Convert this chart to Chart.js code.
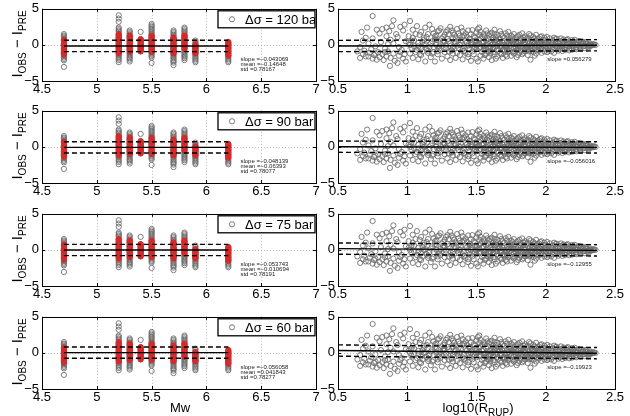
<!DOCTYPE html>
<html>
<head>
<meta charset="utf-8">
<script src="https://cdn.jsdelivr.net/npm/chart.js@4.4.0/dist/chart.umd.min.js"></script>
<style>
  body { margin: 0; background: #fff; }
  #fig { position: relative; width: 630px; height: 416px; overflow: hidden; background: #fff;
         font-family: "Liberation Sans", Arial, sans-serif; color: #000; }
  #fig canvas { position: absolute; }
  .ylab { position: absolute; width: 110px; height: 20px; line-height: 20px; text-align: center;
          font-size: 15px; white-space: nowrap; transform: rotate(-90deg); }
  .ylab sub, .xlab sub { font-size: 10px; }
  .xlab { position: absolute; font-size: 13px; white-space: nowrap; transform: translateX(-50%); }
</style>
</head>
<body>
<div id="fig"></div>
<script>
// Stress drop of each row
const stressDrops = [120, 90, 75, 60];

// Statistics printed in the panels
const mwSlopes = [-0.043069, -0.048139, -0.053743, -0.056058];
const mwMeans = [-0.14648, -0.06393, -0.010694, 0.041843];
const mwStds = [0.78167, 0.78077, 0.78191, 0.78277];
const rupSlopes = [0.056279, -0.056016, -0.12955, -0.19923];

// Fit line of the distance residuals, read at log10(R) = 0.5 and 2.37
const fitRange = [0.5, 2.37];
const fitStart = [-0.15, 0.03, 0.18, 0.33];
const fitEnd = [-0.05, -0.07, -0.06, -0.04];

// Magnitude columns and residuals in each column
const mwValues = [4.7, 5.2, 5.3, 5.4, 5.5, 5.7, 5.8, 5.9, 6.2];
const mwGrayResiduals = [
    [1.5, 1.3, 1.15, 0.95, 0.8, 0.6, 0.4, 0.25, 0.05, -0.1, -0.3, -0.5, -0.65, -0.85, -1.0, -1.2, -1.4, -1.55, -1.75, -1.95, -2.15, -3.05],
    [4.1, 3.65, 3.2, 2.4, 2.2, 2.0, 1.85, 1.6, 1.4, 1.25, 1.05, 0.85, 0.7, 0.5, 0.3, 0.15, -0.05, -0.25, -0.4, -0.6, -0.8, -0.95, -1.15, -1.35, -1.5, -1.7, -1.9, -2.1, -2.4],
    [2.0, 1.8, 1.6, 1.45, 1.25, 1.05, 0.9, 0.7, 0.5, 0.35, 0.15, -0.05, -0.2, -0.4, -0.6, -0.75, -0.95, -1.15, -1.3, -1.5, -1.7, -1.85, -2.05, -2.3],
    [1.8, 0.8, 0.6, 0.45, 0.25, 0.05, -0.1, -0.3, -0.5, -0.65, -0.9],
    [2.9, 2.7, 2.5, 2.3, 2.15, 1.95, 1.75, 1.55, 1.4, 1.2, 1.0, 0.85, 0.65, 0.45, 0.3, 0.1, -0.1, -0.25, -0.45, -0.65, -0.8, -1.0, -1.2, -1.35, -1.55, -1.75, -2.5],
    [2.0, 1.8, 1.6, 1.4, 1.25, 1.05, 0.85, 0.7, 0.5, 0.3, 0.15, -0.05, -0.25, -0.4, -0.6, -0.8, -0.95, -1.15, -1.35, -1.5, -1.7, -1.9, -2.1, -2.25, -2.45, -2.8],
    [2.4, 2.2, 2.0, 1.8, 1.65, 1.45, 1.25, 1.1, 0.9, 0.7, 0.55, 0.35, 0.15, 0.0, -0.2, -0.4, -0.55, -0.75, -0.95, -1.1, -1.3, -1.5, -1.65, -1.85, -2.1],
    [0.6, 0.4, 0.2, 0.05, -0.15, -0.35, -0.5, -0.7, -0.9, -1.05, -1.25, -1.45, -1.6, -1.8, -2.0, -2.2, -2.4],
    [0.4, 0.2, 0.05, -0.15, -0.35, -0.5, -0.7, -0.9, -1.05, -1.25, -1.45, -1.6, -1.8, -2.0, -2.2, -2.4]
];
const mwRedResiduals = [
    [0.7, 0.55, 0.4, 0.2, 0.05, -0.1, -0.25, -0.4, -0.6, -0.75, -0.9, -1.05, -1.2, -1.35],
    [1.5, 1.35, 1.15, 1.0, 0.85, 0.7, 0.5, 0.35, 0.2, 0.05, -0.1, -0.3, -0.45, -0.6, -0.75, -0.9, -1.05, -1.2],
    [1.3, 1.15, 1.0, 0.8, 0.65, 0.5, 0.35, 0.15, 0.0, -0.15, -0.3, -0.5, -0.65, -0.8, -1.0],
    [0.8, 0.65, 0.5, 0.35, 0.2, 0.0, -0.15, -0.3, -0.45, -0.6, -0.75, -0.9],
    [1.3, 1.15, 1.0, 0.8, 0.65, 0.5, 0.3, 0.15, 0.0, -0.15, -0.35, -0.5, -0.65, -0.8, -1.0],
    [1.05, 0.9, 0.75, 0.6, 0.4, 0.25, 0.1, -0.05, -0.25, -0.4, -0.55, -0.7, -0.9, -1.05, -1.2],
    [1.3, 1.15, 1.0, 0.8, 0.65, 0.5, 0.3, 0.15, 0.0, -0.15, -0.35, -0.55],
    [0.1, -0.05, -0.2, -0.35, -0.5, -0.65, -0.8, -0.95, -1.1, -1.2],
    [0.4, 0.25, 0.1, -0.05, -0.2, -0.35, -0.5, -0.65, -0.8, -0.95, -1.1, -1.25, -1.4, -1.5]
];

// Residuals against log10(R_RUP): [log10 R, residual]
const rupPoints = [
    // short distances
    [0.75, 4.0], [0.71, 2.4], [0.67, 1.8], [0.90, 3.4], [0.89, 2.6], [0.85, 2.4], [0.95, 2.5], [0.75, 0.9], [0.85, 1.2], [0.80, 1.6],
    [0.78, 2.1], [0.82, 2.2], [0.87, 1.9], [0.92, 1.5], [0.97, 2.0], [0.93, 1.1], [0.70, 1.0], [0.88, 0.7], [0.98, 2.8],
    [0.66, -0.3], [0.72, 0.2], [0.77, -0.2], [0.81, 0.4], [0.84, -0.5], [0.90, 0.2], [0.94, -0.3], [0.99, 0.5], [0.68, 0.6], [0.74, -0.6],
    [0.86, 0.1], [0.96, -0.7],
    [0.64, -0.9], [0.66, -1.8], [0.68, -1.3], [0.70, -1.6], [0.72, -1.6], [0.73, -1.1], [0.75, -1.9], [0.76, -1.4], [0.78, -2.05], [0.79, -1.0],
    [0.80, -1.7], [0.82, -1.3], [0.83, -2.1], [0.85, -1.6], [0.86, -0.9], [0.875, -2.9], [0.88, -1.8], [0.90, -1.2], [0.91, -2.2], [0.93, -2.5],
    [0.94, -1.5], [0.95, -1.0], [0.97, -1.9], [0.98, -1.3], [0.99, -2.3], [0.69, -0.8], [0.77, -1.2], [0.84, -1.0],
    // 1.0 - 1.5
    [1.02, 3.3], [1.07, 2.6], [1.13, 2.4], [1.04, 2.1], [1.10, 1.8], [1.15, 1.5], [1.18, 2.2], [1.22, 1.9], [1.24, 2.3], [1.29, 2.05],
    [1.33, 1.7], [1.36, 2.2], [1.40, 1.9], [1.44, 2.0], [1.47, 2.05], [1.27, 1.4], [1.31, 2.5], [1.38, 1.3], [1.42, 1.6], [1.48, 1.2],
    [1.01, 1.2], [1.06, 1.5], [1.12, 1.0], [1.20, 1.2], [1.25, 0.9], [1.35, 1.0], [1.45, 0.8], [1.16, 2.8], [1.09, 1.4], [1.19, 1.6],
    [1.28, 1.8], [1.34, 1.4], [1.39, 2.4], [1.46, 1.5], [1.43, 1.1], [1.21, 1.3], [1.23, 2.0], [1.26, 1.1], [1.30, 1.5], [1.32, 2.0],
    [1.37, 1.6], [1.41, 1.3],
    [1.01, 0.3], [1.03, -0.4], [1.05, 0.6], [1.08, -0.2], [1.11, 0.4], [1.14, -0.6], [1.17, 0.2], [1.19, -0.3], [1.21, 0.7], [1.23, -0.5],
    [1.26, 0.3], [1.28, -0.1], [1.30, 0.5], [1.32, -0.7], [1.34, 0.1], [1.37, -0.4], [1.39, 0.6], [1.41, -0.2], [1.43, 0.3], [1.45, -0.6],
    [1.47, 0.4], [1.49, -0.3], [1.12, 0.0], [1.24, 0.1], [1.36, -0.1], [1.46, 0.0],
    [1.02, 0.0], [1.05, -0.2], [1.08, 0.3], [1.10, -0.5], [1.13, 0.1], [1.16, -0.3], [1.18, 0.5], [1.21, 0.0], [1.23, -0.2], [1.26, 0.6],
    [1.28, -0.5], [1.31, 0.2], [1.33, -0.3], [1.35, 0.4], [1.38, 0.0], [1.40, -0.6], [1.42, 0.6], [1.44, -0.1], [1.46, 0.3], [1.48, -0.5],
    [1.03, 0.6], [1.07, -0.7], [1.12, 0.7], [1.15, -0.8], [1.20, 0.8], [1.24, -0.7], [1.29, 0.8], [1.32, -0.8], [1.37, 0.7], [1.41, -0.8],
    [1.45, 0.8], [1.49, 0.6],
    [1.04, 1.0], [1.09, -1.3], [1.14, 1.1], [1.18, -1.2], [1.22, -0.9], [1.27, 0.5], [1.33, 0.9], [1.36, -1.1], [1.40, 1.1], [1.44, -1.3],
    [1.47, -0.9], [1.49, 1.0],
    [1.02, -1.2], [1.04, -1.8], [1.06, -1.0], [1.08, -2.0], [1.10, -1.4], [1.13, -2.3], [1.15, -1.1], [1.17, -1.7], [1.20, -2.3], [1.22, -1.3],
    [1.25, -1.9], [1.27, -1.0], [1.29, -1.6], [1.31, -2.1], [1.33, -1.2], [1.35, -1.8], [1.38, -1.4], [1.40, -2.0], [1.42, -1.1], [1.44, -1.7],
    [1.46, -2.2], [1.48, -1.3], [1.50, -1.9], [1.11, -0.9], [1.19, -1.0], [1.30, -0.9], [1.41, -0.9],
    // 1.5 - 2.0
    [1.51, 2.2], [1.53, 1.8], [1.55, 1.5], [1.57, 2.0], [1.59, 1.3], [1.61, 1.7], [1.63, 2.1], [1.65, 1.4], [1.67, 1.9], [1.69, 1.2],
    [1.71, 1.6], [1.73, 1.8], [1.75, 1.3], [1.77, 1.5], [1.79, 1.1], [1.81, 1.4], [1.83, 1.6], [1.85, 1.2], [1.87, 1.0], [1.89, 1.3],
    [1.91, 1.1], [1.93, 1.4], [1.95, 0.9], [1.97, 1.2], [1.99, 1.0], [1.54, 1.1], [1.58, 0.9], [1.62, 1.0], [1.66, 0.8], [1.70, 1.0],
    [1.74, 0.9], [1.78, 0.8], [1.82, 0.9], [1.86, 0.8], [1.90, 0.7], [1.94, 0.8], [1.98, 0.7], [1.52, 1.4], [1.56, 1.2], [1.60, 1.5],
    [1.64, 1.1], [1.68, 1.5], [1.72, 1.3], [1.76, 1.1], [1.80, 1.2], [1.84, 1.0], [1.88, 1.5], [1.92, 0.9], [1.96, 1.1], [1.50, 1.7],
    [1.52, 2.4], [1.58, 1.6], [1.63, 1.5],
    [1.51, -2.3], [1.53, -1.5], [1.55, -1.9], [1.57, -1.2], [1.59, -1.7], [1.61, -2.1], [1.63, -1.3], [1.65, -1.6], [1.67, -1.1], [1.69, -1.8],
    [1.71, -1.4], [1.73, -1.0], [1.75, -1.5], [1.77, -1.2], [1.79, -1.7], [1.81, -1.1], [1.83, -1.3], [1.85, -0.9], [1.87, -1.4], [1.89, -2.05],
    [1.91, -1.0], [1.93, -1.2], [1.95, -0.8], [1.97, -1.1], [1.99, -0.9], [1.54, -1.0], [1.58, -0.9], [1.62, -1.0], [1.66, -0.8], [1.70, -0.9],
    [1.74, -0.8], [1.78, -0.9], [1.82, -0.8], [1.86, -0.7], [1.90, -0.8], [1.94, -0.7], [1.98, -0.6], [1.56, -1.4], [1.60, -1.2], [1.64, -1.9],
    [1.68, -1.3], [1.72, -1.6], [1.76, -1.0], [1.80, -1.4], [1.84, -1.1], [1.88, -0.9], [1.92, -1.5],
    [1.53, 0.9], [1.59, -0.9], [1.64, 0.7], [1.69, -0.7], [1.74, 0.6], [1.79, -0.7], [1.84, 0.7], [1.89, -0.7], [1.93, 0.6], [1.96, -0.6],
    // dense band around zero
    [1.50, 0.5], [1.50, -0.1], [1.50, -0.6], [1.52, 0.2], [1.52, -0.4], [1.52, 0.7], [1.55, -0.2], [1.55, 0.4], [1.55, -0.7],
    [1.57, 0.6], [1.57, 0.0], [1.57, -0.5], [1.60, -0.3], [1.60, 0.3], [1.60, -0.8], [1.62, 0.1], [1.62, 0.7], [1.62, -0.4],
    [1.65, -0.1], [1.65, 0.5], [1.65, -0.6], [1.67, 0.3], [1.67, -0.3], [1.67, 0.8], [1.70, 0.0], [1.70, -0.6], [1.70, 0.5],
    [1.72, 0.4], [1.72, -0.2], [1.72, -0.7], [1.75, -0.4], [1.75, 0.2], [1.75, 0.6], [1.77, 0.1], [1.77, -0.5], [1.77, 0.5],
    [1.80, -0.2], [1.80, 0.4], [1.80, -0.6], [1.82, 0.3], [1.82, -0.3], [1.82, 0.6], [1.85, 0.0], [1.85, -0.5], [1.85, 0.4],
    [1.87, 0.5], [1.87, -0.2], [1.87, -0.6], [1.90, -0.1], [1.90, 0.3], [1.90, -0.5], [1.92, 0.2], [1.92, -0.4], [1.92, 0.5],
    [1.95, -0.3], [1.95, 0.4], [1.95, 0.0], [1.97, 0.1], [1.97, -0.5], [1.97, 0.5],
    [2.00, -0.2], [2.00, 0.3], [2.00, -0.6], [2.00, 0.7], [2.02, 0.0], [2.02, 0.5], [2.02, -0.4], [2.02, -0.8],
    [2.05, 0.2], [2.05, -0.3], [2.05, 0.6], [2.05, -0.6], [2.07, -0.1], [2.07, 0.4], [2.07, -0.5], [2.07, 0.8],
    [2.10, 0.1], [2.10, -0.3], [2.10, 0.5], [2.10, -0.6], [2.12, -0.2], [2.12, 0.3], [2.12, -0.5], [2.12, 0.6],
    [2.15, 0.0], [2.15, 0.4], [2.15, -0.4], [2.15, 0.7], [2.17, 0.2], [2.17, -0.2], [2.17, -0.5], [2.17, 0.5],
    [2.20, -0.1], [2.20, 0.3], [2.20, -0.4], [2.20, 0.5], [2.22, 0.1], [2.22, -0.3], [2.22, 0.4], [2.22, -0.4],
    [2.25, 0.0], [2.25, 0.3], [2.25, -0.3], [2.27, 0.2], [2.27, -0.2], [2.27, 0.35], [2.30, -0.1], [2.30, 0.15], [2.30, -0.25],
    [2.32, 0.05], [2.32, -0.15], [2.32, 0.2], [2.34, -0.05], [2.34, 0.1], [2.36, 0.0],
    [1.51, 0.1], [1.53, -0.3], [1.54, 0.3], [1.56, -0.1], [1.58, 0.2], [1.59, -0.4], [1.61, 0.0], [1.63, 0.4], [1.64, -0.2], [1.66, 0.2],
    [1.68, -0.1], [1.69, 0.3], [1.71, -0.3], [1.73, 0.1], [1.74, -0.1], [1.76, 0.3], [1.78, -0.3], [1.79, 0.1], [1.81, 0.0], [1.83, -0.1],
    [1.84, 0.2], [1.86, -0.3], [1.88, 0.1], [1.89, -0.2], [1.91, 0.4], [1.93, 0.0], [1.94, -0.2], [1.96, 0.2], [1.98, -0.1], [1.99, 0.3],
    [2.01, 0.1], [2.03, -0.2], [2.04, 0.3], [2.06, 0.0], [2.08, -0.3], [2.09, 0.2], [2.11, -0.1], [2.13, 0.1], [2.14, -0.3], [2.16, 0.2],
    [2.18, 0.0], [2.19, -0.2], [2.21, 0.2], [2.23, 0.0], [2.24, -0.2], [2.26, 0.1], [2.28, -0.1], [2.29, 0.2], [2.31, 0.0], [2.33, -0.05],
    [2.35, 0.05],
    // edge of the funnel
    [2.01, 1.1], [2.03, 0.9], [2.06, 1.0], [2.08, 0.85], [2.11, 0.9], [2.13, 0.75], [2.16, 0.8], [2.19, 0.65], [2.21, 0.7], [2.24, 0.55],
    [2.26, 0.5], [2.29, 0.4], [2.01, -1.0], [2.04, -0.9], [2.06, -1.1], [2.09, -0.8], [2.12, -0.85], [2.14, -0.7], [2.17, -0.75], [2.19, -0.65],
    [2.22, -0.6], [2.25, -0.5], [2.28, -0.45], [2.31, -0.35]
];

const rowTops = [7, 109, 212, 315];
const plotHeight = 74;
const tickFont = { family: '"Liberation Sans", Arial, sans-serif', size: 13 };
const grayCircle = '#6e6e6e';
const redFill = '#d42a2a';

function minusSign(v) {
    return String(v).replace('-', '\u2212');
}

// Frame, dotted grid, inward ticks, text notes and legend box
const panelFrame = {
    id: 'panelFrame',
    beforeDatasetsDraw(chart) {
        const { ctx, chartArea: a, scales: { x, y } } = chart;
        ctx.save();
        ctx.strokeStyle = '#b8b8b8';
        ctx.lineWidth = 1;
        ctx.setLineDash([1, 2]);
        ctx.beginPath();
        x.ticks.forEach(t => {
            const px = Math.round(x.getPixelForValue(t.value)) + 0.5;
            ctx.moveTo(px, a.top);
            ctx.lineTo(px, a.bottom);
        });
        y.ticks.forEach(t => {
            const py = Math.round(y.getPixelForValue(t.value)) + 0.5;
            ctx.moveTo(a.left, py);
            ctx.lineTo(a.right, py);
        });
        ctx.stroke();
        ctx.restore();
    },
    afterDatasetsDraw(chart, args, opts) {
        const { ctx, chartArea: a, scales: { x, y } } = chart;
        ctx.save();
        ctx.strokeStyle = '#000';
        ctx.lineWidth = 1;
        ctx.setLineDash([]);
        ctx.strokeRect(Math.round(a.left) + 0.5, Math.round(a.top) + 0.5,
            Math.round(a.right - a.left), Math.round(a.bottom - a.top));
        ctx.beginPath();
        x.ticks.forEach(t => {
            const px = Math.round(x.getPixelForValue(t.value)) + 0.5;
            ctx.moveTo(px, a.bottom); ctx.lineTo(px, a.bottom - 3);
            ctx.moveTo(px, a.top); ctx.lineTo(px, a.top + 3);
        });
        y.ticks.forEach(t => {
            const py = Math.round(y.getPixelForValue(t.value)) + 0.5;
            ctx.moveTo(a.left, py); ctx.lineTo(a.left + 3, py);
            ctx.moveTo(a.right, py); ctx.lineTo(a.right - 3, py);
        });
        ctx.stroke();

        // statistics text
        ctx.fillStyle = '#222';
        ctx.font = '6px "Liberation Sans", Arial, sans-serif';
        ctx.textBaseline = 'middle';
        ctx.textAlign = 'left';
        const sx = x.getPixelForValue(opts.noteX);
        opts.notes.forEach((line, i) => {
            ctx.fillText(line, sx, a.top + 51 + i * 5);
        });

        // legend box
        if (opts.legend) {
            const bx = a.left + 176, by = a.top + 2, bw = a.right - bx - 1, bh = 17;
            ctx.fillStyle = '#fff';
            ctx.fillRect(bx, by, bw, bh);
            ctx.lineWidth = 1.3;
            ctx.strokeStyle = '#000';
            ctx.strokeRect(bx, by, bw, bh);
            ctx.beginPath();
            ctx.lineWidth = 0.9;
            ctx.strokeStyle = grayCircle;
            ctx.arc(bx + 14, by + bh / 2, 2.6, 0, Math.PI * 2);
            ctx.stroke();
            ctx.beginPath();
            ctx.rect(bx, by, bw, bh);
            ctx.clip();
            ctx.fillStyle = '#000';
            ctx.font = '13px "Liberation Sans", Arial, sans-serif';
            ctx.fillText(opts.legend, bx + 27, by + bh / 2 + 1);
        }
        ctx.restore();
    }
};

function lineSet(points, dashed) {
    return {
        data: points,
        showLine: true,
        pointRadius: 0,
        borderColor: '#000',
        borderWidth: 1.4,
        borderDash: dashed ? [5, 3] : [],
        fill: false
    };
}

function scatterSet(points, stroke, fillColor) {
    return {
        data: points,
        pointRadius: 2.6,
        pointBorderWidth: 0.9,
        borderColor: stroke,
        backgroundColor: fillColor,
        pointBackgroundColor: fillColor,
        pointBorderColor: stroke
    };
}

function axisOptions(min, max, step, size, isX) {
    return {
        type: 'linear',
        min: min,
        max: max,
        grid: { display: false, drawTicks: false },
        border: { display: false },
        ticks: {
            stepSize: step,
            autoSkip: false,
            maxRotation: 0,
            padding: isX ? 1 : 3,
            color: '#000',
            font: tickFont,
            callback: v => minusSign(v)
        },
        afterFit: s => { if (isX) { s.height = size; } else { s.width = size; } }
    };
}

function makeCanvas(left, top, width, height) {
    const canvas = document.createElement('canvas');
    canvas.width = width;
    canvas.height = height;
    canvas.style.left = left + 'px';
    canvas.style.top = top + 'px';
    canvas.style.width = width + 'px';
    canvas.style.height = height + 'px';
    document.getElementById('fig').appendChild(canvas);
    return canvas;
}

function makeChart(canvas, datasets, xAxis, yWidth, padRight, notes, noteX, legend) {
    return new Chart(canvas, {
        type: 'scatter',
        data: { datasets: datasets },
        options: {
            responsive: false,
            animation: false,
            events: [],
            layout: { padding: { top: 9, right: padRight, left: 0, bottom: 0 } },
            scales: {
                x: xAxis,
                y: axisOptions(-5, 5, 5, yWidth, false)
            },
            plugins: {
                legend: { display: false },
                tooltip: { enabled: false },
                panelFrame: { notes: notes, noteX: noteX, legend: legend }
            }
        },
        plugins: [panelFrame]
    });
}

const mwGrayPoints = mwValues.flatMap((mw, i) => mwGrayResiduals[i].map(r => ({ x: mw, y: r })));
const mwRedPoints = mwValues.flatMap((mw, i) => mwRedResiduals[i].map(r => ({ x: mw, y: r })));
const rupScatter = rupPoints.map(p => ({ x: p[0], y: p[1] }));
const mwFirst = mwValues[0];
const mwLast = mwValues[mwValues.length - 1];

stressDrops.forEach((drop, r) => {
    const top = rowTops[r] - 9;
    const h = 9 + plotHeight + 20;

    // magnitude panel
    const m = mwMeans[r], s = mwStds[r];
    makeChart(
        makeCanvas(0, top, 322, h),
        [
            lineSet([{ x: mwFirst, y: m }, { x: mwLast, y: m }], false),
            lineSet([{ x: mwFirst, y: m + s }, { x: mwLast, y: m + s }], true),
            lineSet([{ x: mwFirst, y: m - s }, { x: mwLast, y: m - s }], true),
            scatterSet(mwRedPoints, redFill, redFill),
            scatterSet(mwGrayPoints, grayCircle, 'rgba(0,0,0,0)')
        ],
        axisOptions(4.5, 7, 0.5, 20, true),
        42, 6,
        ['slope =' + minusSign(mwSlopes[r]), 'mean =' + minusSign(m), 'std =' + minusSign(s)],
        6.31,
        '\u0394\u03c3 = ' + drop + ' bar'
    );

    // distance panel
    const f0 = fitStart[r], f1 = fitEnd[r];
    makeChart(
        makeCanvas(316, top, 314, h),
        [
            lineSet([{ x: fitRange[0], y: f0 }, { x: fitRange[1], y: f1 }], false),
            lineSet([{ x: fitRange[0], y: f0 + s }, { x: fitRange[1], y: f1 + s }], true),
            lineSet([{ x: fitRange[0], y: f0 - s }, { x: fitRange[1], y: f1 - s }], true),
            scatterSet(rupScatter, grayCircle, 'rgba(0,0,0,0)')
        ],
        axisOptions(0.5, 2.5, 0.5, 20, true),
        22, 15,
        ['slope =' + minusSign(rupSlopes[r])],
        2.01,
        null
    );

    // y axis title
    const yl = document.createElement('div');
    yl.className = 'ylab';
    yl.innerHTML = 'I<sub>OBS</sub> \u2212 I<sub>PRE</sub>';
    yl.style.left = (17 - 55) + 'px';
    yl.style.top = (rowTops[r] + plotHeight / 2 - 10) + 'px';
    document.getElementById('fig').appendChild(yl);
});

// x axis titles
const fig = document.getElementById('fig');
const mwTitle = document.createElement('div');
mwTitle.className = 'xlab';
mwTitle.style.left = '180px';
mwTitle.style.top = '400px';
mwTitle.textContent = 'Mw';
fig.appendChild(mwTitle);

const rupTitle = document.createElement('div');
rupTitle.className = 'xlab';
rupTitle.style.left = '478px';
rupTitle.style.top = '400px';
rupTitle.innerHTML = 'log10(R<sub>RUP</sub>)';
fig.appendChild(rupTitle);
</script>
</body>
</html>
